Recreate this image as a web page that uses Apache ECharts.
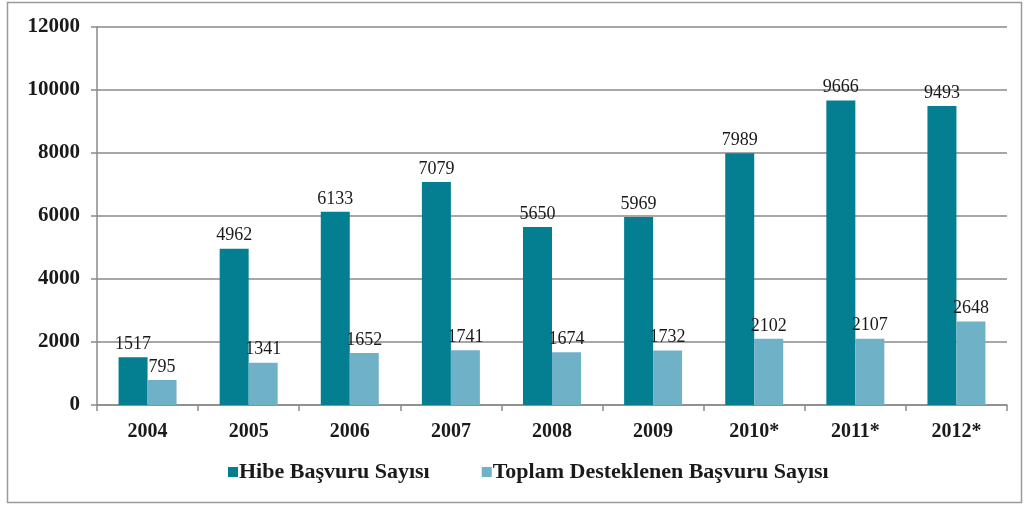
<!DOCTYPE html>
<html><head><meta charset="utf-8">
<script src="https://cdn.jsdelivr.net/npm/echarts@6/dist/echarts.min.js"></script>
<style>html,body{margin:0;padding:0;background:#fff}#c{width:1025px;height:508px}</style>
</head><body><div id="c"></div>
<script>
const categories = ['2004','2005','2006','2007','2008','2009','2010*','2011*','2012*'];
const hibeValues = [1517,4962,6133,7079,5650,5969,7989,9666,9493];
const toplamValues = [795,1341,1652,1741,1674,1732,2102,2107,2648];
const yTicks = [0,2000,4000,6000,8000,10000,12000];
const seriesNames = ['Hibe Başvuru Sayısı','Toplam Desteklenen Başvuru Sayısı'];

const serif = '"Liberation Serif","DejaVu Serif",serif';
const chart = echarts.init(document.getElementById('c'));
chart.setOption({
  animation:false,
  backgroundColor:'#fff',
  graphic:[{type:'rect',shape:{x:7.5,y:2.5,width:1014,height:500},style:{fill:'none',stroke:'#9a9a9a',lineWidth:1.5}}],
  grid:{left:97,right:18,top:27,bottom:103},
  legend:{bottom:20,left:223,itemWidth:10,itemHeight:10,itemGap:52,icon:'rect',
    textStyle:{fontFamily:serif,fontWeight:'bold',fontSize:22,color:'#1a1a1a',padding:[0,0,0,-4]}},
  xAxis:{type:'category',data:categories,
    axisLine:{lineStyle:{color:'#8a8a8a',width:1.5}},
    axisTick:{show:true,length:6,lineStyle:{color:'#8a8a8a',width:1.5}},
    axisLabel:{fontFamily:serif,fontWeight:'bold',fontSize:20,color:'#1a1a1a',margin:17}},
  yAxis:{type:'value',min:yTicks[0],max:yTicks[yTicks.length-1],interval:2000,
    axisLine:{show:true,lineStyle:{color:'#8a8a8a',width:1.5}},
    axisTick:{show:true,length:6,lineStyle:{color:'#8a8a8a',width:1.5}},
    splitLine:{lineStyle:{color:'#8a8a8a',width:1.5}},
    axisLabel:{fontFamily:serif,fontWeight:'bold',fontSize:21,color:'#1a1a1a',margin:17,
      formatter:v=>String(v)}},
  series:[
    {name:seriesNames[0],type:'bar',data:hibeValues,barWidth:29,barGap:'0%',
     itemStyle:{color:'#037f91'},
     label:{show:true,position:'top',distance:4,fontFamily:serif,fontSize:18,color:'#1a1a1a'}},
    {name:seriesNames[1],type:'bar',data:toplamValues,barWidth:29,
     itemStyle:{color:'#6fb2c8'},
     label:{show:true,position:'top',distance:4,fontFamily:serif,fontSize:18,color:'#1a1a1a'}}
  ]
});
</script></body></html>
